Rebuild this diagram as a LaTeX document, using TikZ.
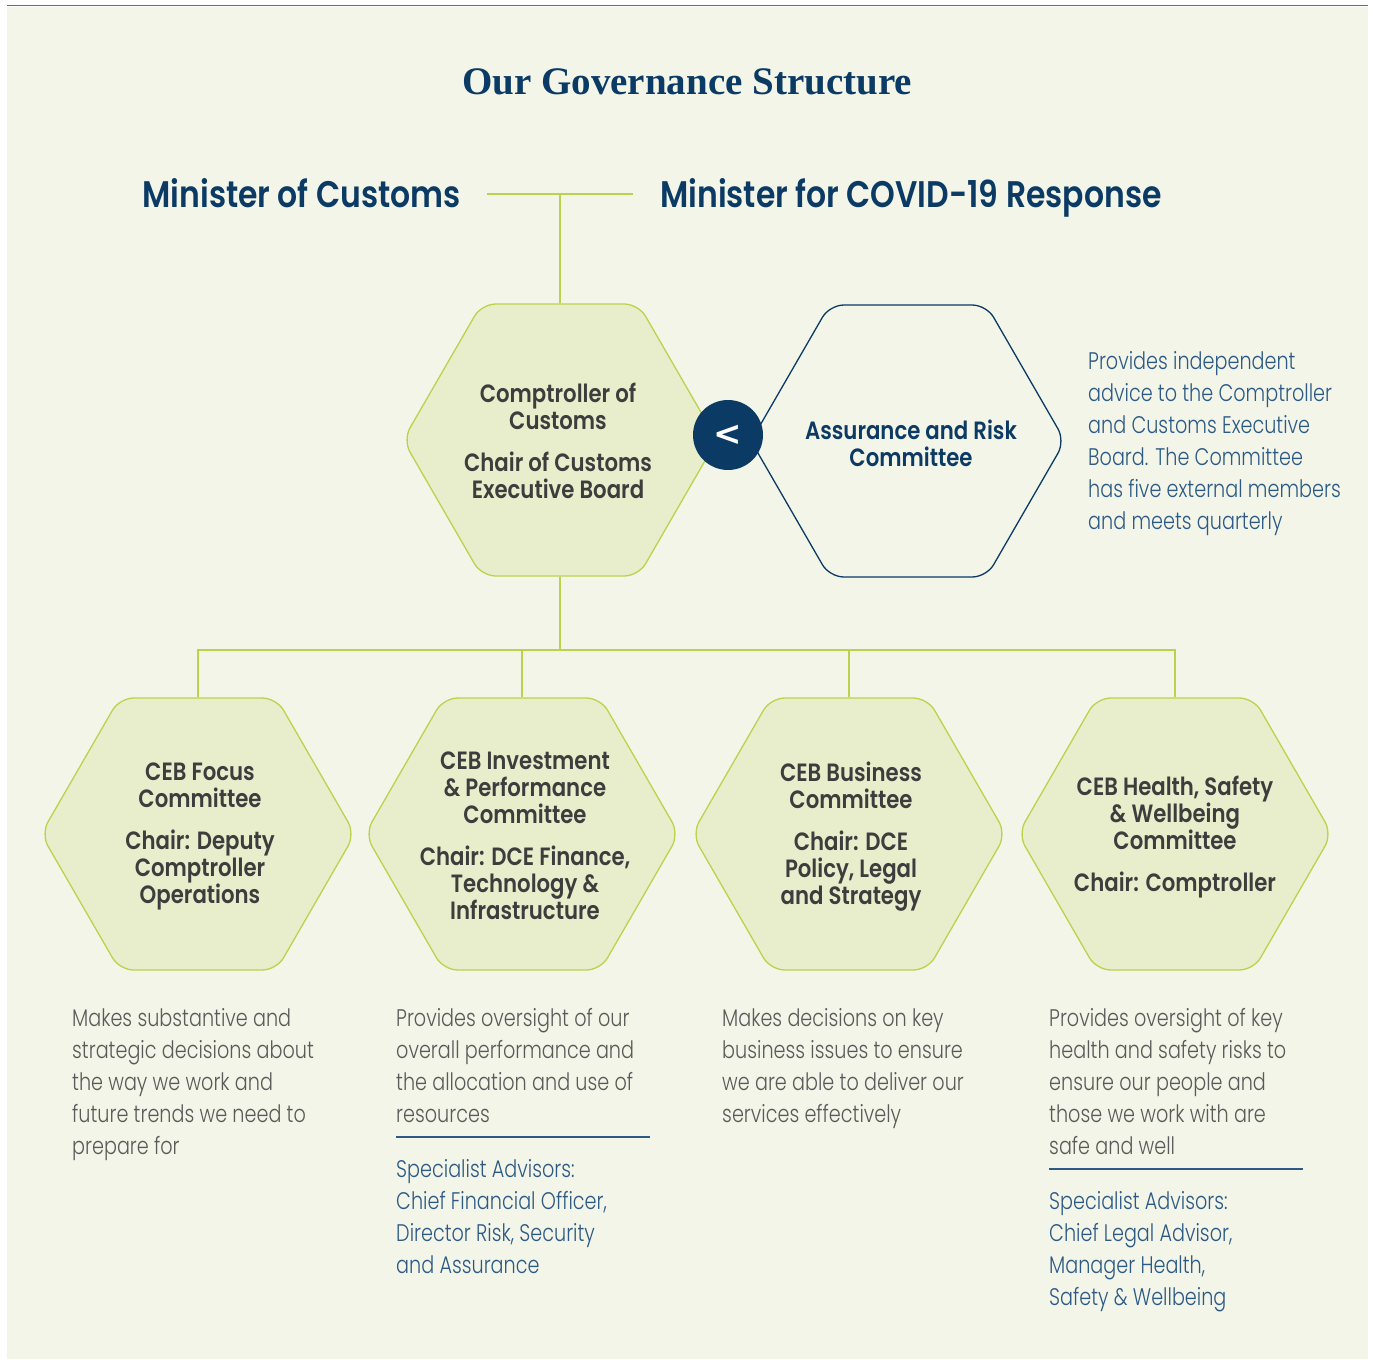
\documentclass[tikz,border=0pt]{standalone}
\usepackage{fontspec}
\setmainfont{Poppins}[FakeStretch=0.8,UprightFont=* Light,BoldFont=* SemiBold,BoldFeatures={FakeStretch=0.85}]
\newfontfamily\titlefont{Liberation Serif}
\newfontfamily\symfont{DejaVu Sans}
\usepackage{xcolor}
\usetikzlibrary{positioning,shapes.geometric}
\definecolor{cream}{HTML}{F3F5E8}
\definecolor{hexfill}{HTML}{E8EECC}
\definecolor{lime}{HTML}{BCD24C}
\definecolor{navy}{HTML}{0B3A64}
\definecolor{inkgrey}{HTML}{3D3D3D}
\definecolor{bodygrey}{HTML}{5A5A5A}
\definecolor{advblue}{HTML}{2C5A85}
\definecolor{topline}{HTML}{4F7394}
\tikzset{
  hexa/.style={regular polygon,regular polygon sides=6,minimum size=314pt,inner sep=0pt,rounded corners=14pt,line width=1.3pt},
  comhex/.style={hexa,draw=lime,fill=hexfill},
  arhex/.style={hexa,draw=navy},
  hextxt/.style={align=center,inner sep=0pt,text=inkgrey,font=\fontsize{25}{27}\selectfont\bfseries},
  body/.style={align=left,anchor=north west,inner sep=0pt,text=bodygrey,font=\fontsize{24}{32}\selectfont},
  adv/.style={body,text=advblue},
  minister/.style={inner sep=0pt,text=navy,text height=27pt,text depth=0pt,font=\fontsize{37}{40}\selectfont\bfseries},
  titletxt/.style={inner sep=0pt,text=navy,text height=26pt,text depth=0pt,font=\titlefont\fontsize{39}{42}\selectfont\bfseries},
  chev/.style={circle,fill=navy,minimum size=70pt,inner sep=0pt,text=white,font=\symfont\fontsize{34}{34}\selectfont\bfseries},
  link/.style={draw=lime,line width=1.3pt},
  rule/.style={draw=advblue,line width=1.2pt},
}
\begin{document}
\begin{tikzpicture}[x=1pt,y=-1pt]
\useasboundingbox (0,0) rectangle (1375,1359);
\fill[white] (0,0) rectangle (1375,1359);
\fill[cream] (7,7) rectangle (1368,1359);
\draw[topline,line width=1.5pt] (7,5.5) -- (1368,5.5);

% headings
\node[titletxt] (title) at (687,82) {Our Governance Structure};
\node[minister,anchor=east] (mcus) at (461,194) {Minister of Customs};
\node[minister,anchor=west] (mcov) at (660,194) {Minister for COVID-19 Response};

% hexagons
\node[comhex] (comp) at (560,440) {};
\node[arhex] (arc) at (908,441) {};
\node[comhex] (foc) at (198,834) {};
\node[comhex] (inv) at (522,834) {};
\node[comhex] (bus) at (849,834) {};
\node[comhex] (hsw) at (1175,834) {};

% connectors
\coordinate (jn) at (560,650);
\draw[link] ([xshift=26pt]mcus.east) -- ([xshift=-27pt]mcov.west);
\draw[link] (comp.north) -- (comp.north |- mcus.east);
\draw[link] (comp.south) -- (comp.south |- jn);
\draw[link] (foc.north) -- (foc.north |- jn) -- (hsw.north |- jn) -- (hsw.north);
\draw[link] (inv.north) -- (inv.north |- jn);
\draw[link] (bus.north) -- (bus.north |- jn);
\node[chev] (lt) at (728,435) {<};

% hexagon labels
\node[hextxt] (comptxt) at (558,441) {Comptroller of\\Customs\\[15pt]Chair of Customs\\Executive Board};
\node[hextxt,text=navy] (arctxt) at (911,443) {Assurance and Risk\\Committee};
\node[hextxt] (foctxt) at (200,836) {CEB Focus\\Committee\\[15pt]Chair: Deputy\\Comptroller\\Operations};
\node[hextxt] (invtxt) at (525,836) {CEB Investment\\\& Performance\\Committee\\[15pt]Chair: DCE Finance,\\Technology \&\\Infrastructure};
\node[hextxt] (bustxt) at (851,837) {CEB Business\\Committee\\[15pt]Chair: DCE\\Policy, Legal\\and Strategy};
\node[hextxt] (hswtxt) at (1175,837) {CEB Health, Safety\\\& Wellbeing\\Committee\\[15pt]Chair: Comptroller};

% descriptions
\node[adv] (arcnote) at (1088,351) {Provides independent\\advice to the Comptroller\\and Customs Executive\\Board. The Committee\\has five external members\\and meets quarterly};
\node[body] (focnote) at (72,1008) {Makes substantive and\\strategic decisions about\\the way we work and\\future trends we need to\\prepare for};
\node[body] (invnote) at (396,1008) {Provides oversight of our\\overall performance and\\the allocation and use of\\resources};
\node[adv] (invadv) at (396,1159) {Specialist Advisors:\\Chief Financial Officer,\\Director Risk, Security\\and Assurance};
\node[body] (busnote) at (722,1008) {Makes decisions on key\\business issues to ensure\\we are able to deliver our\\services effectively};
\node[body] (hswnote) at (1049,1008) {Provides oversight of key\\health and safety risks to\\ensure our people and\\those we work with are\\safe and well};
\node[adv] (hswadv) at (1049,1191) {Specialist Advisors:\\Chief Legal Advisor,\\Manager Health,\\Safety \& Wellbeing};
\draw[rule] (396,1137) -- (650,1137);
\draw[rule] (1049,1169) -- (1303,1169);
\end{tikzpicture}
\end{document}
